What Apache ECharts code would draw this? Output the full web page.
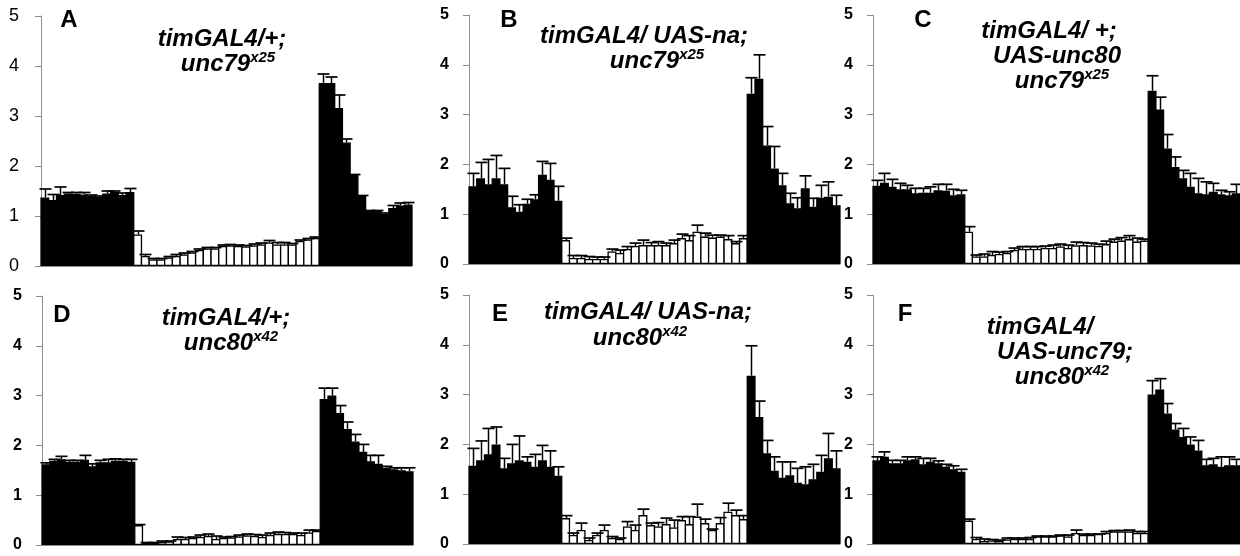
<!DOCTYPE html>
<html><head><meta charset="utf-8">
<script src="https://cdn.jsdelivr.net/npm/echarts@6/dist/echarts.min.js"></script>
<style>html,body{margin:0;padding:0;background:#fff}#c{width:1240px;height:556px}</style>
</head><body><div id="c"></div>
<script>
// 48 half-hour bins
const categories = ['1','2','3','4','5','6','7','8','9','10','11','12','13','14','15','16','17','18','19','20','21','22','23','24',
  '25','26','27','28','29','30','31','32','33','34','35','36','37','38','39','40','41','42','43','44','45','46','47','48'];
// first light bin and last light bin (white bars)
const lightFirst = 12, lightLast = 35;
const yTicks = [0, 1, 2, 3, 4, 5];

const meanA = [1.37,1.32,1.42,1.45,1.44,1.43,1.40,1.38,1.45,1.48,1.42,1.48,
  0.63,0.20,0.13,0.13,0.17,0.20,0.23,0.27,0.32,0.35,0.35,0.40,0.41,0.40,0.39,0.41,0.43,0.47,0.43,0.43,0.43,0.50,0.53,0.56,
  3.66,3.66,3.16,2.47,1.82,1.40,1.10,1.10,1.04,1.16,1.21,1.23];
const upperA = [1.54,1.43,1.58,1.47,1.47,1.47,1.42,1.40,1.50,1.50,1.46,1.55,
  0.70,0.23,0.15,0.15,0.19,0.23,0.26,0.29,0.34,0.37,0.37,0.42,0.43,0.42,0.41,0.44,0.46,0.51,0.47,0.47,0.45,0.52,0.55,0.58,
  3.84,3.78,3.42,2.54,1.83,1.41,1.11,1.11,1.06,1.21,1.26,1.27];

const meanB = [1.56,1.72,1.60,1.72,1.60,1.14,1.05,1.21,1.30,1.79,1.69,1.27,
  0.48,0.12,0.12,0.10,0.10,0.10,0.25,0.22,0.30,0.36,0.38,0.38,0.38,0.38,0.42,0.52,0.48,0.65,0.55,0.53,0.55,0.50,0.42,0.52,
  3.42,3.72,2.38,1.92,1.58,1.22,1.12,1.52,1.15,1.33,1.35,1.18];
const upperB = [1.82,2.04,2.10,2.18,1.92,1.36,1.19,1.30,1.39,2.06,2.02,1.56,
  0.52,0.17,0.17,0.15,0.14,0.14,0.30,0.28,0.35,0.42,0.48,0.43,0.45,0.42,0.48,0.60,0.57,0.78,0.62,0.58,0.58,0.57,0.45,0.57,
  3.74,4.20,2.76,2.36,1.82,1.42,1.33,1.77,1.32,1.58,1.65,1.38];

const meanC = [1.57,1.63,1.55,1.50,1.50,1.42,1.43,1.43,1.48,1.47,1.38,1.40,
  0.65,0.15,0.15,0.18,0.20,0.22,0.28,0.30,0.30,0.30,0.32,0.32,0.35,0.32,0.37,0.38,0.37,0.36,0.40,0.45,0.47,0.50,0.45,0.47,
  3.48,3.10,2.32,1.95,1.72,1.55,1.42,1.40,1.45,1.40,1.38,1.42];
const upperC = [1.68,1.82,1.70,1.62,1.58,1.52,1.52,1.55,1.60,1.60,1.50,1.48,
  0.75,0.18,0.20,0.25,0.24,0.25,0.32,0.35,0.35,0.35,0.36,0.38,0.40,0.38,0.44,0.43,0.42,0.40,0.46,0.50,0.53,0.57,0.52,0.50,
  3.78,3.35,2.60,2.15,1.88,1.82,1.72,1.65,1.62,1.48,1.45,1.60];

const meanD = [1.62,1.69,1.72,1.67,1.67,1.71,1.58,1.66,1.66,1.69,1.69,1.67,
  0.40,0.04,0.04,0.06,0.07,0.12,0.12,0.14,0.16,0.18,0.12,0.14,0.15,0.17,0.19,0.18,0.16,0.20,0.22,0.22,0.22,0.20,0.25,0.28,
  2.93,3.00,2.65,2.33,2.08,1.87,1.68,1.63,1.55,1.52,1.50,1.48];
const upperD = [1.65,1.72,1.78,1.70,1.70,1.80,1.63,1.70,1.72,1.73,1.72,1.72,
  0.41,0.05,0.05,0.08,0.08,0.16,0.15,0.16,0.20,0.22,0.18,0.16,0.17,0.20,0.22,0.21,0.20,0.24,0.26,0.25,0.24,0.24,0.30,0.30,
  3.15,3.15,2.80,2.47,2.22,2.02,1.80,1.80,1.58,1.55,1.55,1.55];

const meanE = [1.57,1.68,1.80,2.00,1.52,1.62,1.68,1.65,1.55,1.68,1.55,1.37,
  0.52,0.18,0.28,0.08,0.18,0.28,0.12,0.10,0.35,0.28,0.58,0.38,0.35,0.40,0.33,0.48,0.40,0.55,0.42,0.28,0.42,0.65,0.58,0.50,
  3.38,2.55,1.82,1.47,1.33,1.38,1.23,1.20,1.30,1.45,1.72,1.52];
const upperE = [1.92,2.07,2.32,2.35,1.72,2.00,2.17,1.75,1.80,1.98,1.87,1.55,
  0.57,0.22,0.42,0.12,0.22,0.38,0.15,0.12,0.45,0.38,0.70,0.42,0.43,0.52,0.48,0.55,0.55,0.80,0.50,0.30,0.53,0.82,0.68,0.57,
  3.98,2.87,2.08,1.75,1.65,1.65,1.52,1.55,1.60,1.78,2.22,1.87];

const meanF = [1.68,1.75,1.62,1.62,1.68,1.70,1.60,1.65,1.62,1.55,1.50,1.45,
  0.47,0.10,0.06,0.07,0.06,0.09,0.10,0.10,0.10,0.15,0.15,0.15,0.17,0.15,0.22,0.18,0.18,0.20,0.22,0.25,0.25,0.25,0.22,0.22,
  3.00,3.10,2.62,2.30,2.15,2.00,1.88,1.58,1.60,1.55,1.58,1.58];
const upperF = [1.75,1.85,1.68,1.68,1.75,1.75,1.72,1.72,1.67,1.60,1.57,1.50,
  0.50,0.13,0.10,0.09,0.08,0.12,0.12,0.12,0.13,0.16,0.16,0.16,0.18,0.18,0.28,0.20,0.20,0.20,0.25,0.27,0.27,0.28,0.25,0.25,
  3.28,3.32,2.82,2.42,2.32,2.15,2.08,1.70,1.72,1.75,1.75,1.70];

const panelLetters = ['A', 'B', 'C', 'D', 'E', 'F'];
const panelTitles = [
  ['timGAL4/+;', 'unc79{s|x25}'],
  ['timGAL4/ UAS-na;', 'unc79{s|x25}'],
  ['timGAL4/ +;', 'UAS-unc80', 'unc79{s|x25}'],
  ['timGAL4/+;', 'unc80{s|x42}'],
  ['timGAL4/ UAS-na;', 'unc80{s|x42}'],
  ['timGAL4/', 'UAS-unc79;', 'unc80{s|x42}']
];

// ---- layout (positions/styles) ----
const grids = [
  {left: 41, top: 16, width: 371, height: 250},
  {left: 469, top: 15, width: 371, height: 249},
  {left: 873, top: 15, width: 371, height: 249},
  {left: 42, top: 296, width: 371, height: 249},
  {left: 469, top: 295, width: 371, height: 249},
  {left: 873, top: 295, width: 371, height: 249}
];
const letterPos = [[69, 20], [509, 20], [923, 20], [62, 315], [500, 314], [905, 314]];
const titlePos = [
  [[222, 39], [228, 64]],
  [[644, 36], [657, 61]],
  [[1049, 31], [1057, 56], [1062, 81]],
  [[226, 318], [231, 343]],
  [[648, 312], [640, 338]],
  [[1040, 327], [1065, 352], [1062, 377]]
];
const means = [meanA, meanB, meanC, meanD, meanE, meanF];
const uppers = [upperA, upperB, upperC, upperD, upperE, upperF];

const FONT = 'Liberation Sans, Arial, sans-serif';

function renderErr(params, api) {
  const i = api.value(0);
  const p0 = api.coord([i, api.value(1)]);
  const p1 = api.coord([i, api.value(2)]);
  const x = Math.round(p0[0]) + 0.5;
  const hw = 6;
  return {
    type: 'group',
    children: [
      {type: 'line', shape: {x1: x, y1: p0[1], x2: x, y2: p1[1]}, style: {stroke: '#000', lineWidth: 1.5}},
      {type: 'line', shape: {x1: x - hw, y1: p1[1], x2: x + hw, y2: p1[1]}, style: {stroke: '#000', lineWidth: 1.7}}
    ]
  };
}

const option = {
  animation: false,
  backgroundColor: '#fff',
  grid: grids.map(g => Object.assign({containLabel: false}, g)),
  xAxis: grids.map((g, k) => ({
    type: 'category', gridIndex: k, data: categories,
    axisLine: {show: true, lineStyle: {color: '#8c8c8c', width: 1}},
    axisTick: {show: false}, axisLabel: {show: false}, splitLine: {show: false}
  })),
  yAxis: grids.map((g, k) => ({
    type: 'value', gridIndex: k, min: yTicks[0], max: yTicks[yTicks.length - 1], interval: 1,
    axisLine: {show: true, lineStyle: {color: '#8c8c8c', width: 1}},
    axisTick: {show: true, length: 6, lineStyle: {color: '#8c8c8c'}},
    splitLine: {show: false},
    axisLabel: k === 0
      ? {color: '#000', fontSize: 18, fontWeight: 'normal', fontFamily: FONT, margin: 22}
      : {color: '#000', fontSize: 16, fontWeight: 'bold', fontFamily: FONT, margin: 20}
  })),
  series: [],
  graphic: []
};

means.forEach((m, k) => {
  option.series.push({
    type: 'bar', xAxisIndex: k, yAxisIndex: k, data: m,
    barWidth: 9, z: 2,
    itemStyle: {
      color: p => (p.dataIndex >= lightFirst && p.dataIndex <= lightLast) ? '#fff' : '#000',
      borderColor: '#000', borderWidth: 1.3
    }
  });
  option.series.push({
    type: 'custom', xAxisIndex: k, yAxisIndex: k, z: 3,
    renderItem: renderErr,
    encode: {x: 0, y: [1, 2]},
    data: m.map((v, i) => [i, v, uppers[k][i]])
  });
});

panelLetters.forEach((L, k) => {
  option.graphic.push({
    type: 'text', x: letterPos[k][0], y: letterPos[k][1], z: 10,
    style: {text: L, fill: '#000', font: 'bold 24px ' + FONT, align: 'center', verticalAlign: 'middle'}
  });
  panelTitles[k].forEach((line, j) => {
    option.graphic.push({
      type: 'text', x: titlePos[k][j][0], y: titlePos[k][j][1], z: 10,
      style: {
        text: line, fill: '#000',
        fontSize: 24, fontWeight: 'bold', fontStyle: 'italic', fontFamily: FONT,
        align: 'center', verticalAlign: 'middle', lineHeight: 28,
        rich: {
          s: {fontSize: 15, fontWeight: 'bold', fontStyle: 'italic', fontFamily: FONT, fill: '#000',
              verticalAlign: 'top', lineHeight: 15}
        }
      }
    });
  });
});

const chart = echarts.init(document.getElementById('c'), null, {renderer: 'canvas'});
chart.setOption(option);
</script>
</body></html>
